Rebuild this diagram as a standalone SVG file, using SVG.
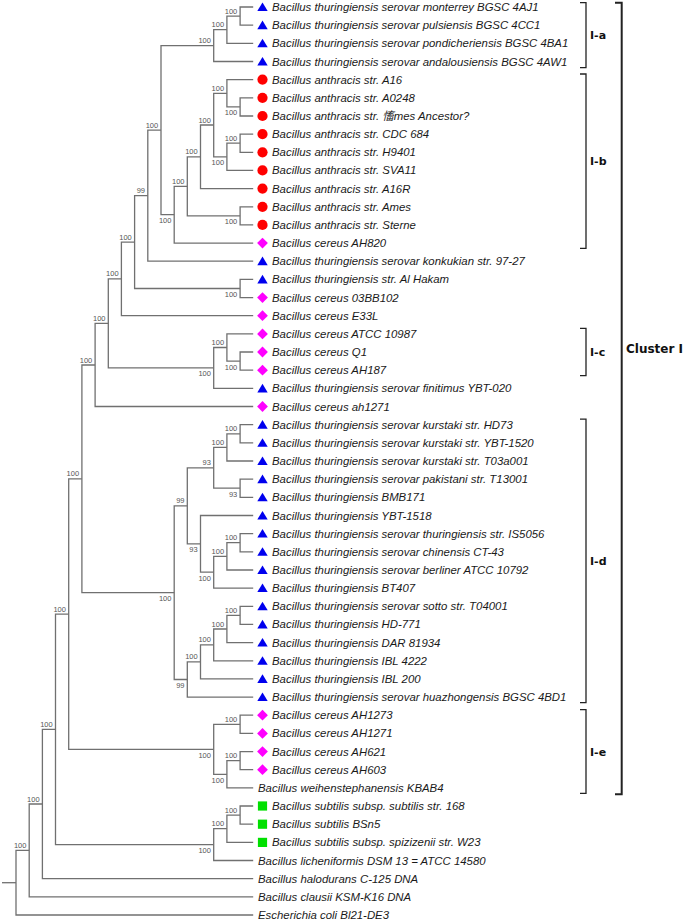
<svg xmlns="http://www.w3.org/2000/svg" xmlns:xlink="http://www.w3.org/1999/xlink" width="685" height="921" viewBox="0 0 685 921">
<style>
.br{fill:none;stroke:#707070;stroke-width:1.3}
.bs{font-family:"Liberation Sans",Arial,sans-serif;font-size:7.5px;fill:#555;text-anchor:end}
.lf{font-family:"Liberation Sans","Noto Sans CJK SC",Arial,sans-serif;font-size:11.4px;font-style:italic;fill:#1a1a1a}
.bk{fill:none;stroke:#222;stroke-width:1.3}
.bk2{fill:none;stroke:#222;stroke-width:2}
.cl{font-family:"DejaVu Sans",Verdana,sans-serif;font-weight:bold;font-size:11px;fill:#111}
.cl2{font-family:"DejaVu Sans",Verdana,sans-serif;font-weight:bold;font-size:12px;fill:#111}
</style>
<defs>
<polygon id="tri" points="0,-4.6 -5.2,4 5.2,4" fill="#0000ee"/>
<circle id="cir" r="5.1" fill="#ff0000"/>
<polygon id="dia" points="0,-5.4 5.4,0 0,5.4 -5.4,0" fill="#ff00ff"/>
<rect id="sq" x="-4.6" y="-4.6" width="9.2" height="9.2" fill="#00e000"/>
</defs>
<rect width="685" height="921" fill="#fff"/>
<g id="connectors" class="br">
<path d="M2 882.7H16"/>
<path d="M29.2 850.4H16V915H253.2"/>
<path d="M42.4 804H29.2V896.8H253.2"/>
<path d="M55.5 729.3H42.4V878.7H253.2"/>
<path d="M68.7 614.1H55.5V844.6H213.7"/>
<path d="M226.9 828.7H213.7V860.5H253.2"/>
<path d="M240.1 815.1H226.9V842.4H253.2"/>
<path d="M253.2 806H240.1V824.2H253.2"/>
<path d="M81.9 478.8H68.7V749.3H213.7"/>
<path d="M240.1 724.3H213.7V774.3H226.9"/>
<path d="M253.2 715.2H240.1V733.4H253.2"/>
<path d="M240.1 760.6H226.9V787.9H253.2"/>
<path d="M253.2 751.6H240.1V769.7H253.2"/>
<path d="M95.1 365H81.9V592.7H174.2"/>
<path d="M187.3 505.8H174.2V679.5H187.3"/>
<path d="M213.7 467.8H187.3V543.9H200.5"/>
<path d="M226.9 447.4H213.7V488.2H240.1"/>
<path d="M240.1 433.8H226.9V461H253.2"/>
<path d="M253.2 424.7H240.1V442.8H253.2"/>
<path d="M253.2 479.2H240.1V497.3H253.2"/>
<path d="M253.2 515.5H200.5V572.2H213.7"/>
<path d="M226.9 556.3H213.7V588.1H253.2"/>
<path d="M240.1 542.7H226.9V570H253.2"/>
<path d="M253.2 533.6H240.1V551.8H253.2"/>
<path d="M200.5 661.9H187.3V697.1H253.2"/>
<path d="M213.7 644.9H200.5V678.9H253.2"/>
<path d="M226.9 629H213.7V660.8H253.2"/>
<path d="M240.1 615.4H226.9V642.6H253.2"/>
<path d="M253.2 606.3H240.1V624.4H253.2"/>
<path d="M108.3 323.4H95.1V406.5H253.2"/>
<path d="M121.4 278.9H108.3V367.9H213.7"/>
<path d="M226.9 347.5H213.7V388.4H253.2"/>
<path d="M253.2 333.9H226.9V361.1H240.1"/>
<path d="M253.2 352H240.1V370.2H253.2"/>
<path d="M134.6 242.1H121.4V315.7H253.2"/>
<path d="M147.8 195.7H134.6V288.5H240.1"/>
<path d="M253.2 279.4H240.1V297.6H253.2"/>
<path d="M161 130.2H147.8V261.2H253.2"/>
<path d="M213.7 45.6H161V214.7H174.2"/>
<path d="M226.9 29.7H213.7V61.5H253.2"/>
<path d="M240.1 16.1H226.9V43.3H253.2"/>
<path d="M253.2 7H240.1V25.2H253.2"/>
<path d="M187.3 186.3H174.2V243.1H253.2"/>
<path d="M200.5 156.8H187.3V215.8H240.1"/>
<path d="M253.2 206.8H240.1V224.9H253.2"/>
<path d="M213.7 125H200.5V188.6H253.2"/>
<path d="M226.9 93.3H213.7V156.8H226.9"/>
<path d="M253.2 79.6H226.9V106.9H240.1"/>
<path d="M253.2 97.8H240.1V116H253.2"/>
<path d="M240.1 143.2H226.9V170.4H253.2"/>
<path d="M253.2 134.1H240.1V152.3H253.2"/>
</g>
<g id="bootstrap" class="bs">
<text x="237.3" y="13.6">100</text>
<text x="224.1" y="27.2">100</text>
<text x="210.9" y="43.1">100</text>
<text x="158.2" y="127.7">100</text>
<text x="145" y="193.2">99</text>
<text x="131.8" y="239.6">100</text>
<text x="118.6" y="276.4">100</text>
<text x="105.5" y="320.9">100</text>
<text x="92.3" y="362.5">100</text>
<text x="79.1" y="476.3">100</text>
<text x="65.9" y="611.6">100</text>
<text x="52.7" y="726.8">100</text>
<text x="39.6" y="801.5">100</text>
<text x="26.4" y="847.9">100</text>
<text x="171.4" y="223.2">100</text>
<text x="184.5" y="183.8">100</text>
<text x="197.7" y="154.3">100</text>
<text x="210.9" y="122.5">100</text>
<text x="224.1" y="90.8">100</text>
<text x="237.3" y="115.4">100</text>
<text x="224.1" y="165.3">100</text>
<text x="237.3" y="140.7">100</text>
<text x="237.3" y="224.3">100</text>
<text x="237.3" y="297">100</text>
<text x="210.9" y="376.4">100</text>
<text x="224.1" y="345">100</text>
<text x="237.3" y="369.6">100</text>
<text x="171.4" y="601.2">100</text>
<text x="184.5" y="503.3">99</text>
<text x="210.9" y="465.3">93</text>
<text x="224.1" y="444.9">100</text>
<text x="237.3" y="431.3">100</text>
<text x="237.3" y="496.7">93</text>
<text x="197.7" y="552.4">93</text>
<text x="210.9" y="580.7">100</text>
<text x="224.1" y="553.8">100</text>
<text x="237.3" y="540.2">100</text>
<text x="184.5" y="688">99</text>
<text x="197.7" y="659.4">100</text>
<text x="210.9" y="642.4">100</text>
<text x="224.1" y="626.5">100</text>
<text x="237.3" y="612.9">100</text>
<text x="210.9" y="757.8">100</text>
<text x="237.3" y="721.8">100</text>
<text x="224.1" y="782.8">100</text>
<text x="237.3" y="758.1">100</text>
<text x="210.9" y="853.1">100</text>
<text x="224.1" y="826.2">100</text>
<text x="237.3" y="812.6">100</text>
</g>
<g id="leaves" class="lf">
<g id="n01"><use href="#tri" x="262.5" y="7"/><text x="272" y="11">Bacillus thuringiensis serovar monterrey BGSC 4AJ1</text></g>
<g id="n02"><use href="#tri" x="262.5" y="25.2"/><text x="272" y="29.2">Bacillus thuringiensis serovar pulsiensis BGSC 4CC1</text></g>
<g id="n03"><use href="#tri" x="262.5" y="43.3"/><text x="272" y="47.3">Bacillus thuringiensis serovar pondicheriensis BGSC 4BA1</text></g>
<g id="n04"><use href="#tri" x="262.5" y="61.5"/><text x="272" y="65.5">Bacillus thuringiensis serovar andalousiensis BGSC 4AW1</text></g>
<g id="n05"><use href="#cir" x="262.5" y="79.6"/><text x="272" y="83.6">Bacillus anthracis str. A16</text></g>
<g id="n06"><use href="#cir" x="262.5" y="97.8"/><text x="272" y="101.8">Bacillus anthracis str. A0248</text></g>
<g id="n07"><use href="#cir" x="262.5" y="116"/><text x="272" y="120">Bacillus anthracis str. 慉mes Ancestor?</text></g>
<g id="n08"><use href="#cir" x="262.5" y="134.1"/><text x="272" y="138.1">Bacillus anthracis str. CDC 684</text></g>
<g id="n09"><use href="#cir" x="262.5" y="152.3"/><text x="272" y="156.3">Bacillus anthracis str. H9401</text></g>
<g id="n10"><use href="#cir" x="262.5" y="170.4"/><text x="272" y="174.4">Bacillus anthracis str. SVA11</text></g>
<g id="n11"><use href="#cir" x="262.5" y="188.6"/><text x="272" y="192.6">Bacillus anthracis str. A16R</text></g>
<g id="n12"><use href="#cir" x="262.5" y="206.8"/><text x="272" y="210.8">Bacillus anthracis str. Ames</text></g>
<g id="n13"><use href="#cir" x="262.5" y="224.9"/><text x="272" y="228.9">Bacillus anthracis str. Sterne</text></g>
<g id="n14"><use href="#dia" x="262.5" y="243.1"/><text x="272" y="247.1">Bacillus cereus AH820</text></g>
<g id="n15"><use href="#tri" x="262.5" y="261.2"/><text x="272" y="265.2">Bacillus thuringiensis serovar konkukian str. 97-27</text></g>
<g id="n16"><use href="#tri" x="262.5" y="279.4"/><text x="272" y="283.4">Bacillus thuringiensis str. Al Hakam</text></g>
<g id="n17"><use href="#dia" x="262.5" y="297.6"/><text x="272" y="301.6">Bacillus cereus 03BB102</text></g>
<g id="n18"><use href="#dia" x="262.5" y="315.7"/><text x="272" y="319.7">Bacillus cereus E33L</text></g>
<g id="n19"><use href="#dia" x="262.5" y="333.9"/><text x="272" y="337.9">Bacillus cereus ATCC 10987</text></g>
<g id="n20"><use href="#dia" x="262.5" y="352"/><text x="272" y="356">Bacillus cereus Q1</text></g>
<g id="n21"><use href="#dia" x="262.5" y="370.2"/><text x="272" y="374.2">Bacillus cereus AH187</text></g>
<g id="n22"><use href="#tri" x="262.5" y="388.4"/><text x="272" y="392.4">Bacillus thuringiensis serovar finitimus YBT-020</text></g>
<g id="n23"><use href="#dia" x="262.5" y="406.5"/><text x="272" y="410.5">Bacillus cereus ah1271</text></g>
<g id="n24"><use href="#tri" x="262.5" y="424.7"/><text x="272" y="428.7">Bacillus thuringiensis serovar kurstaki str. HD73</text></g>
<g id="n25"><use href="#tri" x="262.5" y="442.8"/><text x="272" y="446.8">Bacillus thuringiensis serovar kurstaki str. YBT-1520</text></g>
<g id="n26"><use href="#tri" x="262.5" y="461"/><text x="272" y="465">Bacillus thuringiensis serovar kurstaki str. T03a001</text></g>
<g id="n27"><use href="#tri" x="262.5" y="479.2"/><text x="272" y="483.2">Bacillus thuringiensis serovar pakistani str. T13001</text></g>
<g id="n28"><use href="#tri" x="262.5" y="497.3"/><text x="272" y="501.3">Bacillus thuringiensis BMB171</text></g>
<g id="n29"><use href="#tri" x="262.5" y="515.5"/><text x="272" y="519.5">Bacillus thuringiensis YBT-1518</text></g>
<g id="n30"><use href="#tri" x="262.5" y="533.6"/><text x="272" y="537.6">Bacillus thuringiensis serovar thuringiensis str. IS5056</text></g>
<g id="n31"><use href="#tri" x="262.5" y="551.8"/><text x="272" y="555.8">Bacillus thuringiensis serovar chinensis CT-43</text></g>
<g id="n32"><use href="#tri" x="262.5" y="570"/><text x="272" y="574">Bacillus thuringiensis serovar berliner ATCC 10792</text></g>
<g id="n33"><use href="#tri" x="262.5" y="588.1"/><text x="272" y="592.1">Bacillus thuringiensis BT407</text></g>
<g id="n34"><use href="#tri" x="262.5" y="606.3"/><text x="272" y="610.3">Bacillus thuringiensis serovar sotto str. T04001</text></g>
<g id="n35"><use href="#tri" x="262.5" y="624.4"/><text x="272" y="628.4">Bacillus thuringiensis HD-771</text></g>
<g id="n36"><use href="#tri" x="262.5" y="642.6"/><text x="272" y="646.6">Bacillus thuringiensis DAR 81934</text></g>
<g id="n37"><use href="#tri" x="262.5" y="660.8"/><text x="272" y="664.8">Bacillus thuringiensis IBL 4222</text></g>
<g id="n38"><use href="#tri" x="262.5" y="678.9"/><text x="272" y="682.9">Bacillus thuringiensis IBL 200</text></g>
<g id="n39"><use href="#tri" x="262.5" y="697.1"/><text x="272" y="701.1">Bacillus thuringiensis serovar huazhongensis BGSC 4BD1</text></g>
<g id="n40"><use href="#dia" x="262.5" y="715.2"/><text x="272" y="719.2">Bacillus cereus AH1273</text></g>
<g id="n41"><use href="#dia" x="262.5" y="733.4"/><text x="272" y="737.4">Bacillus cereus AH1271</text></g>
<g id="n42"><use href="#dia" x="262.5" y="751.6"/><text x="272" y="755.6">Bacillus cereus AH621</text></g>
<g id="n43"><use href="#dia" x="262.5" y="769.7"/><text x="272" y="773.7">Bacillus cereus AH603</text></g>
<g id="n44"><text x="258" y="791.9">Bacillus weihenstephanensis KBAB4</text></g>
<g id="n45"><use href="#sq" x="262.5" y="806"/><text x="272" y="810">Bacillus subtilis subsp. subtilis str. 168</text></g>
<g id="n46"><use href="#sq" x="262.5" y="824.2"/><text x="272" y="828.2">Bacillus subtilis BSn5</text></g>
<g id="n47"><use href="#sq" x="262.5" y="842.4"/><text x="272" y="846.4">Bacillus subtilis subsp. spizizenii str. W23</text></g>
<g id="n48"><text x="258" y="864.5">Bacillus licheniformis DSM 13 = ATCC 14580</text></g>
<g id="n49"><text x="258" y="882.7">Bacillus halodurans C-125 DNA</text></g>
<g id="n50"><text x="258" y="900.8">Bacillus clausii KSM-K16 DNA</text></g>
<g id="n51"><text x="258" y="919">Escherichia coli Bl21-DE3</text></g>
</g>
<g id="clade-Ia"><path class="bk" d="M580 2.7H586V67.7H580"/><text class="cl" x="590" y="39">I-a</text></g>
<g id="clade-Ib"><path class="bk" d="M580 74H586V248.3H580"/><text class="cl" x="590" y="165">I-b</text></g>
<g id="clade-Ic"><path class="bk" d="M580 328.3H586V375.7H580"/><text class="cl" x="590" y="356">I-c</text></g>
<g id="clade-Id"><path class="bk" d="M580 419.2H586V702.6H580"/><text class="cl" x="590" y="564.5">I-d</text></g>
<g id="clade-Ie"><path class="bk" d="M580 709.7H586V793.4H580"/><text class="cl" x="590" y="755.5">I-e</text></g>
<g id="cluster-I"><path class="bk2" d="M615 2.7H621.7V794.3H615"/><text class="cl2" x="626" y="352.5">Cluster I</text></g>
</svg>
